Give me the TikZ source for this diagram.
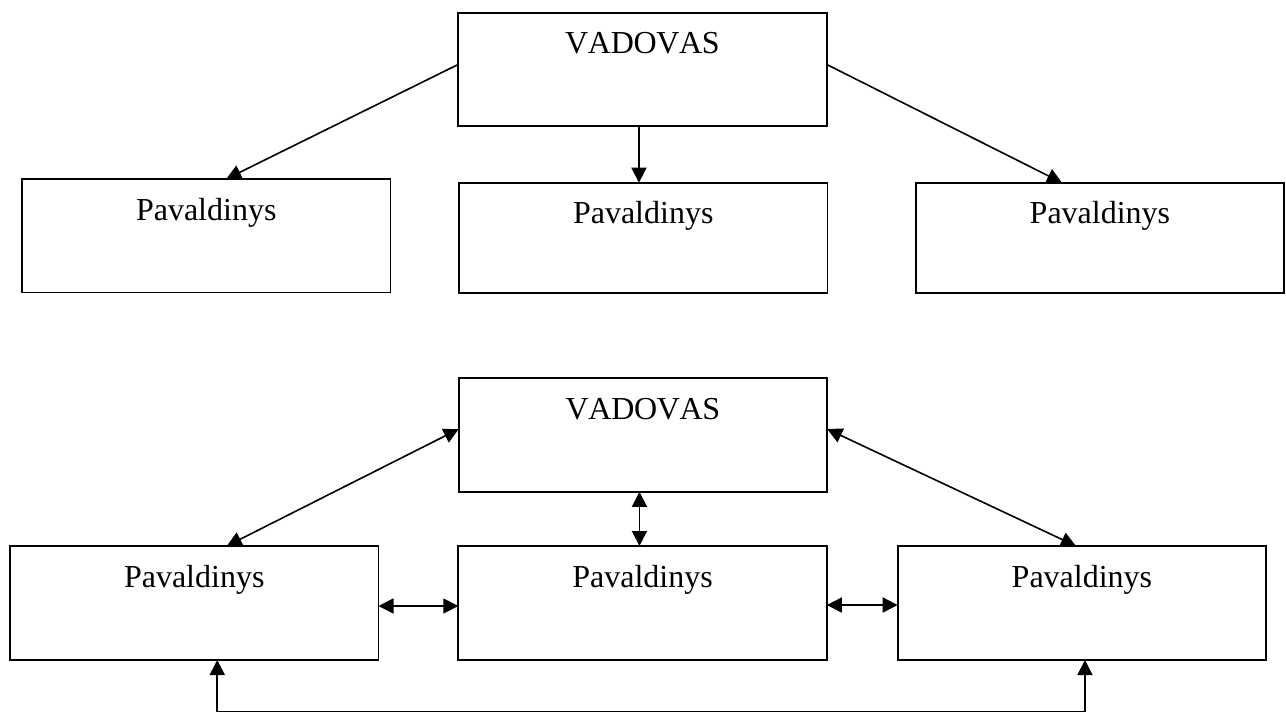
\documentclass[tikz,border=0pt]{standalone}
\usepackage{fontspec}
\setmainfont{Liberation Serif}
\usetikzlibrary{arrows.meta}
\newcommand{\vadovastext}{V\kern-0.3pt A\kern-0.3pt D\kern-0.3pt O\kern-0.3pt V\kern-0.3pt A\kern-0.3pt S}
\tikzset{
  box/.style={draw, line width=1.9pt, inner sep=0pt, outer sep=0pt, anchor=north west,
    minimum width=368.5pt, text height=41pt, text depth=72.5pt,
    font=\fontsize{32}{38}\selectfont},
  shortbox/.style={box, text depth=69pt},
  arr/.style={line width=1.6pt, -{Triangle[length=15pt,width=15pt]}},
  darr/.style={line width=1.6pt, {Triangle[length=15pt,width=15pt]}-{Triangle[length=15pt,width=15pt]}}
}
\begin{document}
\begin{tikzpicture}[x=1pt,y=-1pt]
\useasboundingbox (0,0) rectangle (1286,713);
% top diagram
\node[box] (tv) at (458.2,12.7) {\vadovastext};
\node[box] (tl) at (22,179) {Pavaldinys};
\node[shortbox] (tm) at (459,182.7) {Pavaldinys};
\node[shortbox] (tr) at (915.7,182.7) {Pavaldinys};
\draw[arr] ([yshift=5pt]tv.west) -- ([xshift=20pt]tl.north);
\draw[arr] ([xshift=-3.5pt]tv.south) -- ([xshift=-3.5pt]tv.south |- tm.north);
\draw[arr] ([yshift=5pt]tv.east) -- ([xshift=-38pt]tr.north);
% bottom diagram
\node[box] (bv) at (458.7,378.3) {\vadovastext};
\node[box, text depth=73pt] (bl) at (10,546) {Pavaldinys};
\node[box, text depth=73pt] (bm) at (458.3,546) {Pavaldinys};
\node[box, text depth=73pt] (br) at (897.7,546) {Pavaldinys};
\draw[darr] ([yshift=6pt]bv.west) -- ([xshift=32.5pt]bl.north);
\draw[darr] ([yshift=6pt]bv.east) -- ([xshift=-6pt]br.north);
\draw[darr] ([xshift=-3.5pt]bv.south) -- ([xshift=-3.5pt]bv.south |- bm.north);
\draw[darr] ([yshift=-3pt]bl.east) -- ([yshift=-3pt]bm.west);
\draw[darr] ([yshift=-2pt]bm.east) -- ([yshift=-2pt]br.west);
\draw[darr] ([xshift=23pt]bl.south) -- ++(0,51.5) -| ([xshift=3pt]br.south);
\end{tikzpicture}
\end{document}
